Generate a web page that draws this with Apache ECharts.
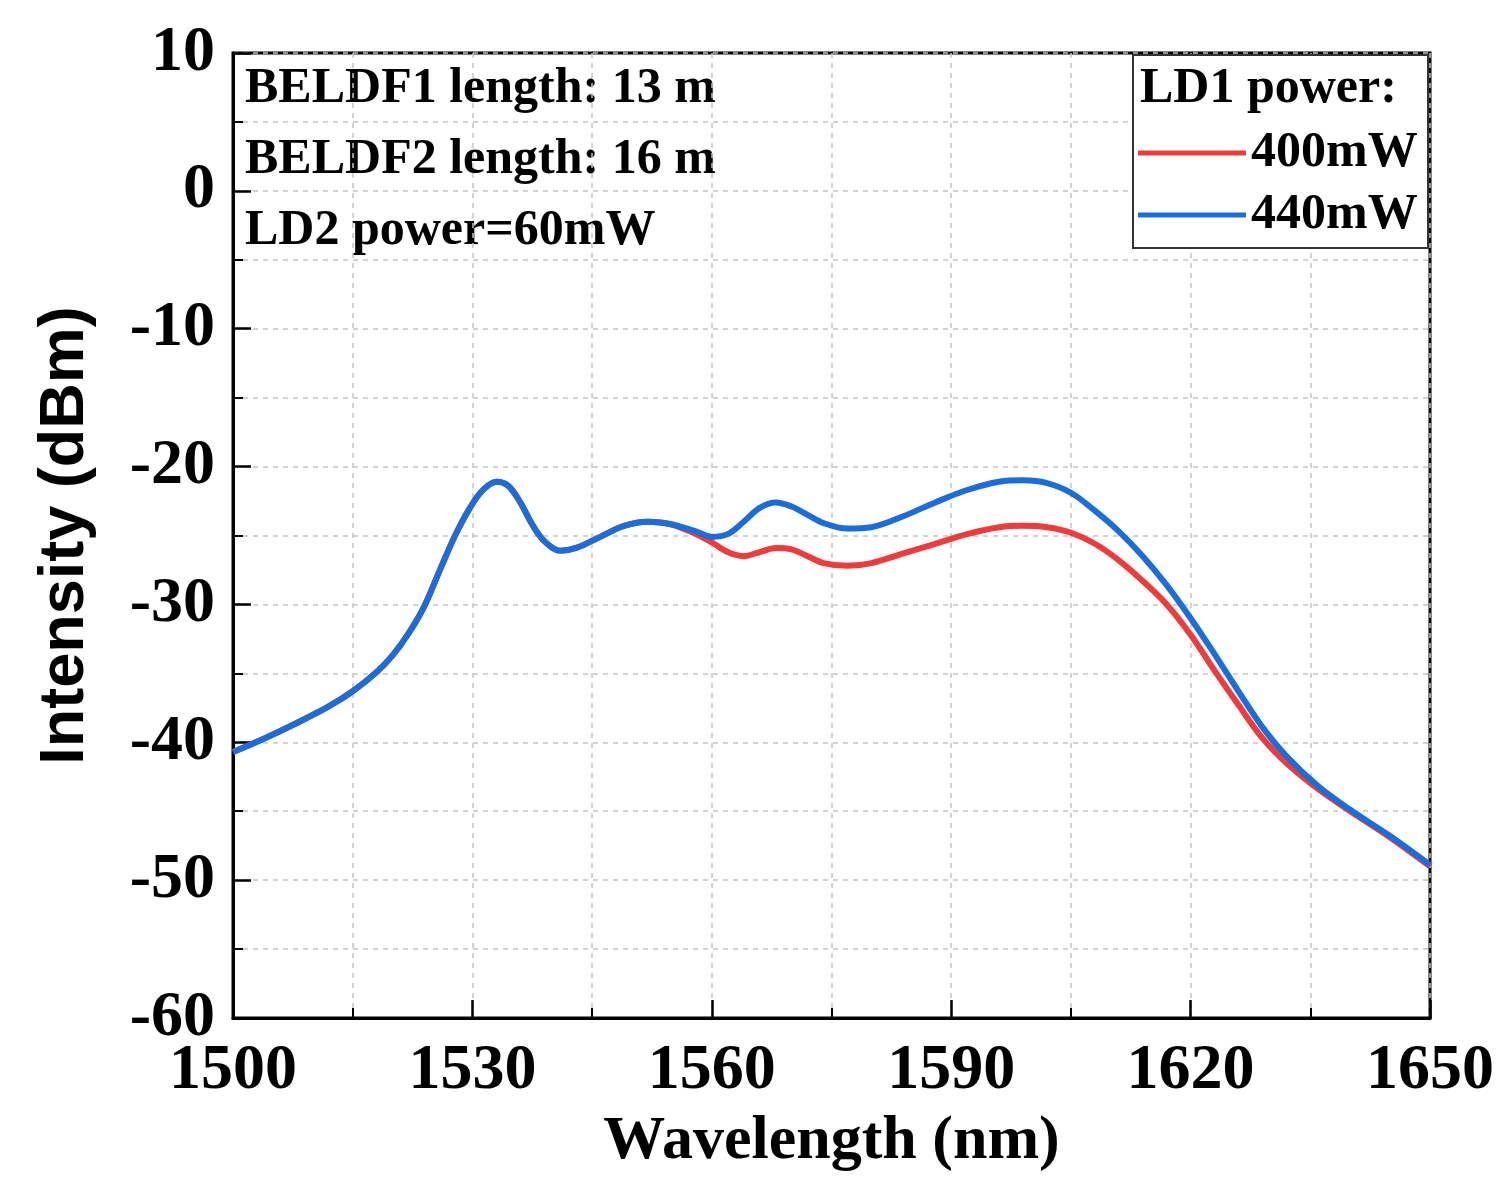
<!DOCTYPE html>
<html>
<head>
<meta charset="utf-8">
<script src="https://cdn.jsdelivr.net/npm/echarts@6/dist/echarts.min.js"></script>
<style>
html,body{margin:0;padding:0;background:#fff;}
#chart{width:1503px;height:1178px;}
</style>
</head>
<body>
<div id="chart"></div>
<script>
const wavelengths = [1500,1504,1508,1512,1515,1518,1520,1522,1524,1526,1528,1530,1531.5,1533,1534.5,1536,1537.5,1539,1541,1543,1546,1549,1552,1555,1558,1560,1562,1564,1566,1568,1570,1572,1574,1577,1580,1584,1588,1592,1596,1599,1602,1605,1608,1611,1614,1617,1620,1623,1626,1629,1632,1636,1640,1645,1650];
const power400 = [-40.7,-39.7,-38.6,-37.4,-36.3,-34.9,-33.7,-32.1,-30.1,-27.4,-24.8,-22.7,-21.6,-21.1,-21.4,-22.6,-24.2,-25.4,-26.1,-25.9,-25.1,-24.3,-24.0,-24.2,-24.9,-25.5,-26.2,-26.5,-26.2,-25.9,-26.0,-26.5,-27.0,-27.2,-27.0,-26.3,-25.6,-24.9,-24.4,-24.3,-24.4,-24.8,-25.6,-26.8,-28.3,-30.0,-32.2,-34.8,-37.3,-39.7,-41.5,-43.4,-45.0,-46.9,-49.0];
const power440 = [-40.7,-39.7,-38.6,-37.4,-36.3,-34.9,-33.7,-32.1,-30.1,-27.4,-24.8,-22.7,-21.6,-21.1,-21.4,-22.6,-24.2,-25.4,-26.1,-25.9,-25.1,-24.3,-24.0,-24.2,-24.7,-25.1,-24.9,-24.0,-23.0,-22.6,-22.9,-23.5,-24.1,-24.5,-24.4,-23.6,-22.6,-21.7,-21.1,-21.0,-21.2,-21.9,-23.2,-24.7,-26.5,-28.6,-31.0,-33.6,-36.3,-38.9,-41.0,-43.2,-44.9,-46.8,-48.9];
const seriesNames = ['400mW','440mW'];
const annotations = ['BELDF1 length: 13 m','BELDF2 length: 16 m','LD2 power=60mW'];
const legendTitle = 'LD1 power:';
const xTitle = 'Wavelength (nm)';
const yTitle = 'Intensity (dBm)';

const serif = "'Liberation Serif','Times New Roman',serif";
const sans = "'Liberation Sans',Arial,sans-serif";
const gridLine = {show:true,lineStyle:{color:'#c4c4c4',width:1.5,type:[5,5]}};

const chart = echarts.init(document.getElementById('chart'), null, {renderer:'canvas'});
chart.setOption({
  animation:false,
  backgroundColor:'#fff',
  color:['#ee3b3b','#1c6ddc'],
  grid:{left:233,right:73,top:53,bottom:158,containLabel:false,show:true,borderColor:'#000',borderWidth:3},
  legend:{
    data:seriesNames, orient:'vertical', left:1138, top:128, z:20, padding:0,
    icon:'rect', itemWidth:108, itemHeight:5, itemGap:12,
    textStyle:{fontFamily:serif,fontWeight:'bold',fontSize:50,color:'#000'}
  },
  xAxis:{
    type:'value', min:1500, max:1650, interval:30,
    name:xTitle, nameLocation:'middle', nameGap:93,
    nameTextStyle:{fontFamily:serif,fontWeight:'bold',fontSize:62,color:'#000'},
    axisLine:{show:true,onZero:false,lineStyle:{color:'#000',width:3}},
    axisTick:{show:true,inside:true,length:18,lineStyle:{color:'#000',width:2.5}},
    minorTick:{show:true,splitNumber:2,length:10,lineStyle:{color:'#000',width:2}},
    axisLabel:{fontFamily:serif,fontWeight:'bold',fontSize:64,color:'#000',margin:21,formatter:v=>String(v)},
    splitLine:gridLine, minorSplitLine:gridLine
  },
  yAxis:{
    type:'value', min:-60, max:10, interval:10,
    name:yTitle, nameLocation:'middle', nameGap:136,
    nameTextStyle:{fontFamily:sans,fontWeight:'bold',fontSize:63,color:'#000'},
    axisLine:{show:true,onZero:false,lineStyle:{color:'#000',width:3}},
    axisTick:{show:true,inside:true,length:18,lineStyle:{color:'#000',width:2.5}},
    minorTick:{show:true,splitNumber:2,length:10,lineStyle:{color:'#000',width:2}},
    axisLabel:{fontFamily:serif,fontWeight:'bold',fontSize:64,color:'#000',margin:18,formatter:v=>String(v)},
    splitLine:gridLine, minorSplitLine:gridLine
  },
  graphic:[
    {type:'text',left:245,top:64,style:{text:annotations[0],font:"bold 50px 'Liberation Serif'",fill:'#000'}},
    {type:'text',left:245,top:135,style:{text:annotations[1],font:"bold 50px 'Liberation Serif'",fill:'#000'}},
    {type:'text',left:245,top:206,style:{text:annotations[2],font:"bold 50px 'Liberation Serif'",fill:'#000'}},
    {type:'rect',shape:{x:1133,y:55,width:295,height:193},style:{fill:'#fff',stroke:'#333',lineWidth:2},z:5},
    {type:'text',left:1140,top:64,z:6,style:{text:legendTitle,font:"bold 50px 'Liberation Serif'",fill:'#000'}}
  ],
  series:[
    {name:seriesNames[0],type:'line',smooth:0.35,showSymbol:false,lineStyle:{width:6},z:3,
     data:wavelengths.map((w,i)=>[w,power400[i]])},
    {name:seriesNames[1],type:'line',smooth:0.35,showSymbol:false,lineStyle:{width:6},z:4,
     data:wavelengths.map((w,i)=>[w,power440[i]])}
  ]
});
</script>
</body>
</html>
